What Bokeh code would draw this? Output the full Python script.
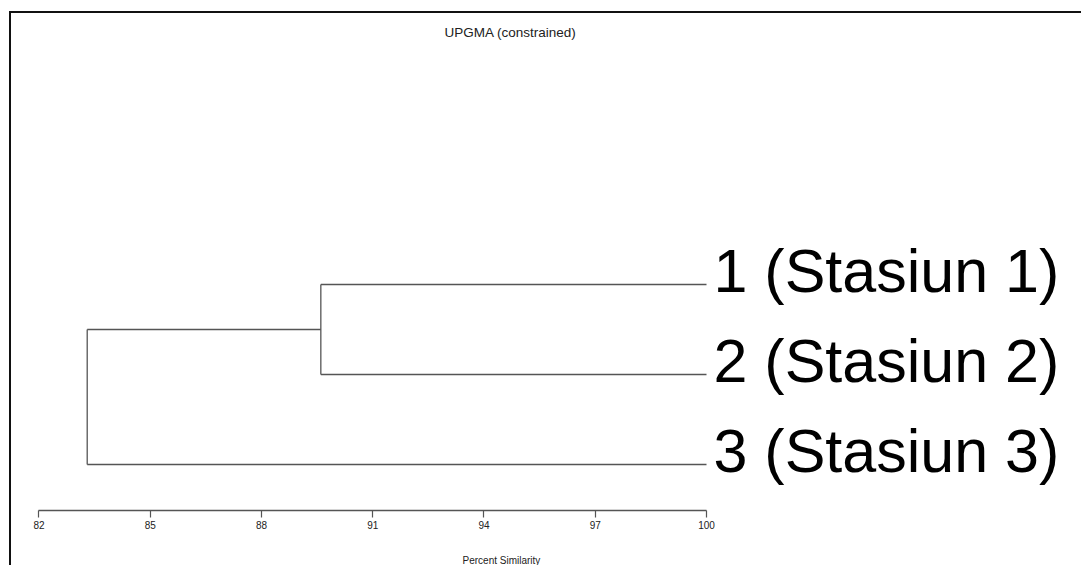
from bokeh.plotting import figure
from bokeh.models import Range1d, LinearAxis, FixedTicker, ColumnDataSource
from bokeh.core.properties import value
from bokeh.embed import file_html
from bokeh.resources import INLINE

# ---- data ----
leaf_labels = ["1 (Stasiun 1)", "2 (Stasiun 2)", "3 (Stasiun 3)"]
leaf_order = [1, 2, 3]
# merges: (left member, right member, similarity %)
merge_a = ["1", "n1"]
merge_b = ["2", "3"]
merge_sim = [89.6, 83.3]
tick_values = [82, 85, 88, 91, 94, 97, 100]
title_text = "UPGMA (constrained)"
axis_title = "Percent Similarity"

# ---- layout constants ----
FONT = "Liberation Sans"
X0, X1 = 80.9618, 110.1124
Y_BOTTOM, Y_TOP = 4.1222, -2.1556
AXIS_Y = 3.5111
BORDER_X, BORDER_Y = 81.218, -2.0278

p = figure(width=1081, height=565, output_backend="svg", toolbar_location=None,
           x_range=Range1d(X0, X1), y_range=Range1d(Y_BOTTOM, Y_TOP),
           min_border=0, min_border_left=0, min_border_right=0,
           min_border_top=0, min_border_bottom=0, x_axis_location=None,
           y_axis_location=None)
p.grid.visible = False
p.outline_line_color = None
p.background_fill_color = "white"
p.border_fill_color = "white"

# ---- frame borders (top and left) ----
p.segment(x0=[BORDER_X, BORDER_X], y0=[BORDER_Y, BORDER_Y],
          x1=[X1 + 1, BORDER_X], y1=[BORDER_Y, Y_BOTTOM + 1],
          line_color="#111111", line_width=2, line_cap="square")

# ---- build dendrogram segments from merges ----
pos = {}   # node -> (x, y)
for name, yv in zip(leaf_order, leaf_order):
    pos[str(name)] = (100.0, float(yv))
x0s, y0s, x1s, y1s = [], [], [], []
for k, (a, b, s) in enumerate(zip(merge_a, merge_b, merge_sim)):
    ax_, ay = pos[a]
    bx, by = pos[b]
    # horizontal branches
    x0s += [s, s]; y0s += [ay, by]; x1s += [ax_, bx]; y1s += [ay, by]
    # vertical connector
    x0s.append(s); y0s.append(ay); x1s.append(s); y1s.append(by)
    pos["n%d" % (k + 1)] = (s, (ay + by) / 2.0)
seg = ColumnDataSource(dict(x0=x0s, y0=y0s, x1=x1s, y1=y1s))
p.segment("x0", "y0", "x1", "y1", source=seg, line_color="#555555", line_width=1.3)

# ---- leaf labels ----
lab = ColumnDataSource(dict(x=[100.0] * len(leaf_order), y=[float(v) for v in leaf_order],
                            t=leaf_labels))
p.text("x", "y", text="t", source=lab, x_offset=7, y_offset=-14,
       text_font=value(FONT), text_font_size="61px", text_color="black",
       text_baseline="alphabetic", text_align="left")

# ---- title and axis title ----
p.text(x=[94.715], y=[-1.8], text=[title_text], text_font=value(FONT),
       text_font_size="13.5px", text_color="#222222", text_align="center",
       text_baseline="middle")
p.text(x=[94.47], y=[4.0667], text=[axis_title], text_font=value(FONT),
       text_font_size="10px", text_color="#222222", text_align="center",
       text_baseline="middle")

# ---- axis ----
ax = LinearAxis(fixed_location=AXIS_Y, ticker=FixedTicker(ticks=tick_values),
                bounds=(tick_values[0], tick_values[-1]))
ax.axis_line_color = "#555555"
ax.axis_line_width = 1.3
ax.major_tick_line_color = "#555555"
ax.major_tick_line_width = 1.2
ax.major_tick_out = 7
ax.major_tick_in = 0
ax.minor_tick_line_color = None
ax.major_label_text_font = FONT
ax.major_label_text_font_size = "10px"
ax.major_label_text_color = "#222222"
ax.major_label_standoff = 3
p.add_layout(ax, "below")

open("out.html", "w").write(file_html(p, INLINE))
